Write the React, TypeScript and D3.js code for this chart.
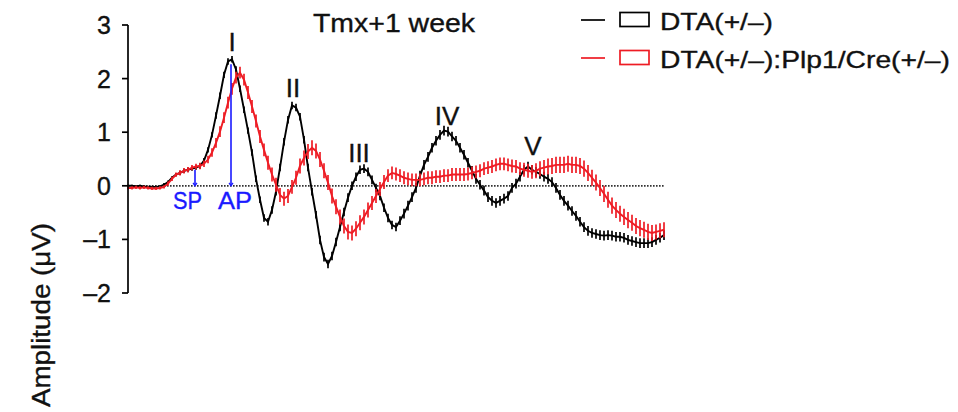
import React from "react";
import * as d3 from "d3";

// Sampling interval of the averaged ABR traces (ms)
const sampleStep = 0.08;

// DTA(+/–) mean amplitude (µV)
const dtaMean = [
  0.0, 0.0, -0.01, 0.0, -0.01, -0.02, -0.02, -0.02, -0.01, 0.02,
  0.07, 0.15, 0.21, 0.24, 0.28, 0.3, 0.32, 0.34, 0.37, 0.47,
  0.67, 0.95, 1.31, 1.68, 2.07, 2.32, 2.36, 2.17, 1.81, 1.42,
  1.03, 0.62, 0.13, -0.26, -0.6, -0.67, -0.45, -0.11, 0.34, 0.82,
  1.23, 1.5, 1.46, 1.29, 0.86, 0.34, -0.11, -0.54, -1.01, -1.33,
  -1.46, -1.31, -1.05, -0.77, -0.49, -0.22, 0.0, 0.17, 0.3, 0.32,
  0.26, 0.11, -0.04, -0.19, -0.41, -0.6, -0.73, -0.77, -0.65, -0.52,
  -0.37, -0.21, -0.04, 0.19, 0.39, 0.54, 0.71, 0.84, 0.95, 1.03,
  1.01, 0.92, 0.84, 0.71, 0.58, 0.43, 0.28, 0.13, 0.02, -0.09,
  -0.21, -0.28, -0.32, -0.28, -0.24, -0.19, -0.04, 0.04, 0.17, 0.3,
  0.36, 0.3, 0.26, 0.22, 0.17, 0.13, 0.07, -0.04, -0.17, -0.28,
  -0.37, -0.47, -0.56, -0.67, -0.77, -0.84, -0.88, -0.9, -0.92, -0.93,
  -0.92, -0.93, -0.95, -0.95, -0.97, -1.01, -1.03, -1.05, -1.07, -1.07,
  -1.07, -1.05, -1.01, -0.97, -0.92,
];

// DTA(+/–) standard error (µV)
const dtaSem = [
  0.02, 0.02, 0.02, 0.02, 0.02, 0.02, 0.02, 0.02, 0.02, 0.03,
  0.03, 0.03, 0.03, 0.04, 0.04, 0.04, 0.04, 0.04, 0.05, 0.05,
  0.05, 0.05, 0.06, 0.06, 0.06, 0.06, 0.06, 0.06, 0.06, 0.06,
  0.06, 0.06, 0.06, 0.06, 0.07, 0.07, 0.07, 0.07, 0.07, 0.07,
  0.07, 0.07, 0.07, 0.07, 0.07, 0.07, 0.07, 0.07, 0.08, 0.08,
  0.08, 0.08, 0.08, 0.08, 0.08, 0.08, 0.08, 0.08, 0.08, 0.08,
  0.08, 0.08, 0.08, 0.08, 0.08, 0.08, 0.08, 0.08, 0.08, 0.09,
  0.09, 0.09, 0.09, 0.09, 0.09, 0.09, 0.09, 0.09, 0.09, 0.09,
  0.09, 0.09, 0.09, 0.09, 0.09, 0.09, 0.09, 0.09, 0.09, 0.09,
  0.09, 0.09, 0.09, 0.09, 0.09, 0.09, 0.09, 0.09, 0.09, 0.09,
  0.09, 0.09, 0.09, 0.09, 0.09, 0.09, 0.09, 0.09, 0.09, 0.09,
  0.09, 0.09, 0.09, 0.09, 0.09, 0.09, 0.09, 0.09, 0.09, 0.09,
  0.09, 0.09, 0.09, 0.09, 0.09, 0.09, 0.09, 0.09, 0.09, 0.09,
  0.09, 0.09, 0.09, 0.09, 0.09,
];

// DTA(+/–):Plp1/Cre(+/–) mean amplitude (µV)
const creMean = [
  -0.04, -0.04, -0.03, -0.04, -0.03, -0.04, -0.05, -0.05, -0.04, -0.02,
  0.04, 0.13, 0.21, 0.24, 0.28, 0.3, 0.34, 0.36, 0.37, 0.41,
  0.49, 0.62, 0.8, 1.01, 1.27, 1.55, 1.81, 2.02, 2.11, 1.98,
  1.74, 1.48, 1.21, 0.92, 0.67, 0.43, 0.21, 0.02, -0.17, -0.24,
  -0.19, -0.02, 0.15, 0.37, 0.52, 0.64, 0.71, 0.65, 0.49, 0.28,
  0.06, -0.19, -0.39, -0.58, -0.75, -0.86, -0.88, -0.8, -0.69, -0.58,
  -0.45, -0.32, -0.19, -0.06, 0.07, 0.19, 0.24, 0.22, 0.19, 0.15,
  0.13, 0.11, 0.11, 0.11, 0.13, 0.15, 0.15, 0.17, 0.17, 0.19,
  0.19, 0.21, 0.21, 0.21, 0.21, 0.22, 0.24, 0.26, 0.28, 0.32,
  0.34, 0.36, 0.39, 0.41, 0.41, 0.39, 0.37, 0.36, 0.32, 0.3,
  0.28, 0.26, 0.28, 0.32, 0.34, 0.36, 0.37, 0.39, 0.39, 0.39,
  0.41, 0.39, 0.39, 0.37, 0.32, 0.24, 0.15, 0.06, -0.04, -0.15,
  -0.26, -0.37, -0.45, -0.52, -0.58, -0.64, -0.69, -0.75, -0.79, -0.82,
  -0.86, -0.88, -0.86, -0.84, -0.82,
];

// DTA(+/–):Plp1/Cre(+/–) standard error (µV)
const creSem = [
  0.03, 0.03, 0.03, 0.03, 0.03, 0.03, 0.03, 0.03, 0.03, 0.03,
  0.04, 0.04, 0.04, 0.05, 0.05, 0.05, 0.05, 0.05, 0.06, 0.06,
  0.07, 0.08, 0.09, 0.1, 0.1, 0.11, 0.11, 0.11, 0.11, 0.11,
  0.12, 0.12, 0.12, 0.12, 0.12, 0.13, 0.13, 0.13, 0.13, 0.13,
  0.13, 0.13, 0.13, 0.14, 0.14, 0.14, 0.14, 0.14, 0.14, 0.14,
  0.14, 0.14, 0.14, 0.14, 0.14, 0.14, 0.14, 0.14, 0.14, 0.14,
  0.14, 0.13, 0.13, 0.13, 0.13, 0.12, 0.12, 0.12, 0.12, 0.12,
  0.12, 0.12, 0.12, 0.12, 0.12, 0.12, 0.12, 0.12, 0.12, 0.12,
  0.12, 0.12, 0.12, 0.12, 0.12, 0.12, 0.12, 0.12, 0.12, 0.12,
  0.12, 0.12, 0.12, 0.12, 0.12, 0.12, 0.12, 0.12, 0.12, 0.13,
  0.13, 0.13, 0.14, 0.14, 0.14, 0.15, 0.15, 0.15, 0.15, 0.15,
  0.15, 0.15, 0.15, 0.15, 0.15, 0.15, 0.15, 0.15, 0.15, 0.15,
  0.15, 0.15, 0.15, 0.15, 0.15, 0.15, 0.15, 0.15, 0.15, 0.15,
  0.15, 0.15, 0.14, 0.14, 0.14,
];

const yTicks = [-2, -1, 0, 1, 2, 3];

// Wave labels: latency (ms) and amplitude at the label baseline (µV)
const waveNames = ["I", "II", "III", "IV", "V"];
const waveTimes = [2.08, 3.30, 4.62, 6.38, 8.10];
const waveLevels = [2.52, 1.66, 0.45, 1.14, 0.58];

// Summating potential / action potential markers
const markerNames = ["SP", "AP"];
const markerTimes = [1.34, 2.06];
const markerTops = [0.3, 2.27];

const seriesNames = ["DTA(+/–)", "DTA(+/–):Plp1/Cre(+/–)"];
const seriesColors = ["#000000", "#ee1c24"];

const FONT = "'Liberation Sans', Arial, Helvetica, sans-serif";
const TEXT_COLOR = "#111";
const BLUE = "#1a1aff";

export default function App() {
  const n = dtaMean.length;
  const times = d3.range(n).map((i) => i * sampleStep);
  const x = d3.scaleLinear().domain([0, (n - 1) * sampleStep]).range([128, 664]);
  const y = d3.scaleLinear().domain([-2, 3]).range([293, 25]);

  const line = d3
    .line<number>()
    .x((_, i) => x(times[i]))
    .y((d) => y(d));

  const series = [
    { mean: dtaMean, sem: dtaSem, color: seriesColors[0] },
    { mean: creMean, sem: creSem, color: seriesColors[1] },
  ];

  const x0 = x(0);
  const x1 = x((n - 1) * sampleStep);
  const textWeight = { stroke: TEXT_COLOR, strokeWidth: 0.35 };

  return (
    <svg
      width={958}
      height={412}
      style={{ position: "absolute", left: 0, top: 0, background: "#fff" }}
      fontFamily={FONT}
    >
      {/* zero baseline */}
      <line
        x1={x0}
        x2={x1}
        y1={y(0)}
        y2={y(0)}
        stroke="#333"
        strokeWidth={1.8}
        strokeDasharray="1.6,1.4"
      />

      {/* traces with error bars */}
      {series.map((s, k) => (
        <g key={k}>
          {s.mean.map((m, i) => (
            <line
              key={i}
              x1={x(times[i])}
              x2={x(times[i])}
              y1={y(m - s.sem[i])}
              y2={y(m + s.sem[i])}
              stroke={s.color}
              strokeWidth={1.7}
            />
          ))}
          <path d={line(s.mean) || ""} fill="none" stroke={s.color} strokeWidth={1.9} />
        </g>
      ))}

      {/* y axis */}
      <line x1={x0} x2={x0} y1={y(3)} y2={y(-2)} stroke="#000" strokeWidth={1.7} />
      {yTicks.map((t) => (
        <g key={t}>
          <line x1={x0 - 6} x2={x0} y1={y(t)} y2={y(t)} stroke="#000" strokeWidth={1.7} />
          <text
            x={111}
            y={y(t)}
            dy="0.36em"
            textAnchor="end"
            fontSize={25}
            fill={TEXT_COLOR}
            {...textWeight}
          >
            {t < 0 ? `–${Math.abs(t)}` : `${t}`}
          </text>
        </g>
      ))}
      <text
        transform={`translate(50,315) rotate(-90)`}
        textAnchor="middle"
        fontSize={25}
        fill={TEXT_COLOR}
        textLength={184}
        lengthAdjust="spacingAndGlyphs"
        {...textWeight}
      >
        Amplitude (μV)
      </text>

      {/* SP / AP markers */}
      {markerNames.map((name, i) => {
        const mx = x(markerTimes[i]);
        return (
          <g key={name}>
            <line x1={mx} x2={mx} y1={y(markerTops[i])} y2={y(0)} stroke={BLUE} strokeWidth={1.6} />
            <path
              d={`M${mx - 2},${y(0) - 3} L${mx},${y(0)} L${mx + 2},${y(0) - 3}`}
              fill="none"
              stroke={BLUE}
              strokeWidth={1.2}
            />
          </g>
        );
      })}
      <text x={173} y={209} fontSize={23} fill={BLUE} stroke={BLUE} strokeWidth={0.35} textLength={29} lengthAdjust="spacingAndGlyphs">
        SP
      </text>
      <text x={218} y={209} fontSize={23} fill={BLUE} stroke={BLUE} strokeWidth={0.35} textLength={34} lengthAdjust="spacingAndGlyphs">
        AP
      </text>

      {/* wave labels */}
      {waveNames.map((w, i) => (
        <text
          key={w}
          x={x(waveTimes[i])}
          y={y(waveLevels[i])}
          textAnchor="middle"
          fontSize={26}
          fill={TEXT_COLOR}
          {...textWeight}
        >
          {w}
        </text>
      ))}

      {/* title */}
      <text x={313} y={32} fontSize={26} fill={TEXT_COLOR} textLength={162} lengthAdjust="spacingAndGlyphs" {...textWeight}>
        Tmx+1 week
      </text>

      {/* legend */}
      {seriesNames.map((name, i) => {
        const cy = 20 + i * 38;
        return (
          <g key={name}>
            <line x1={581} x2={605} y1={cy} y2={cy} stroke={seriesColors[i]} strokeWidth={1.7} />
            <rect x={620} y={cy - 7.5} width={29} height={14} fill="none" stroke={seriesColors[i]} strokeWidth={1.7} />
            <text
              x={660}
              y={cy + 10}
              fontSize={24}
              fill={TEXT_COLOR}
              textLength={i === 0 ? 113 : 290}
              lengthAdjust="spacingAndGlyphs"
              {...textWeight}
            >
              {name}
            </text>
          </g>
        );
      })}
    </svg>
  );
}
